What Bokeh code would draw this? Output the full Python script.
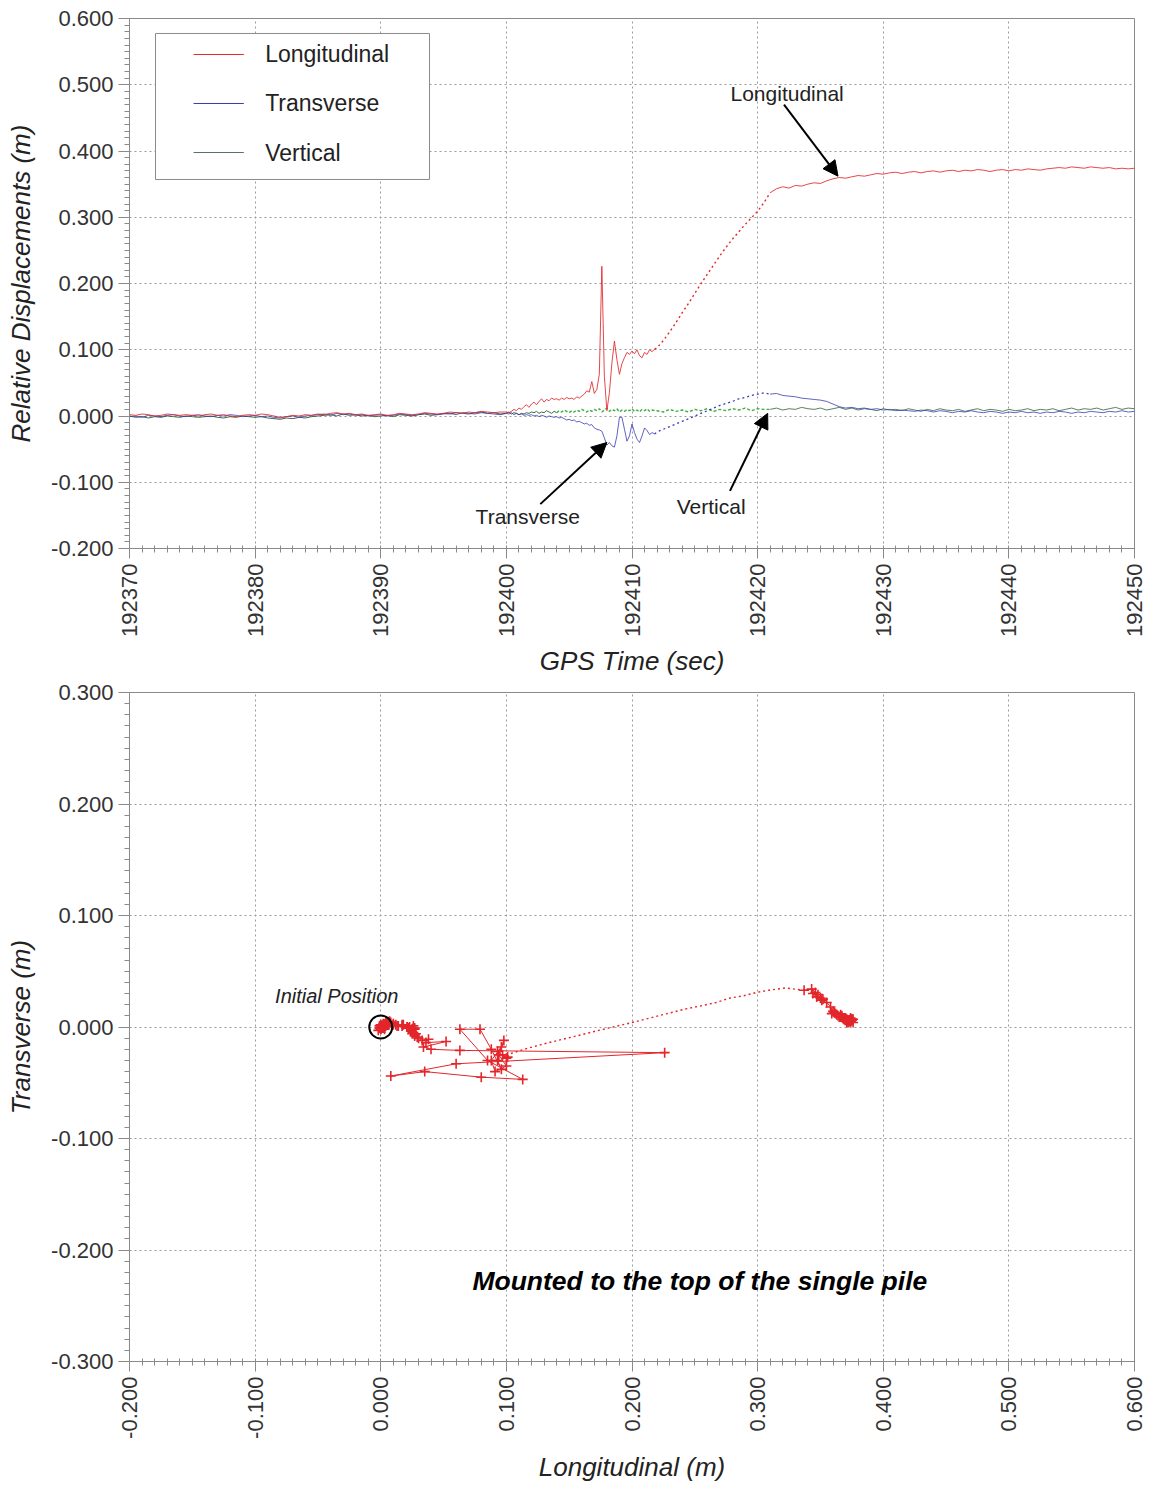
import numpy as np
from bokeh.plotting import figure
from bokeh.layouts import column
from bokeh.models import FixedTicker, PrintfTickFormatter, Arrow, NormalHead, Label
from bokeh.embed import file_html
from bokeh.resources import INLINE

FONT = "Liberation Sans"
RED = "#e3262b"
BLUE = "#3b3bb3"
GREEN_DARK = "#3d6b45"
GREEN = "#3fae3f"
AXIS = "#8a8a8a"

# ---- GPS sample clocks (seconds) ----
t_pre = 192370.0 + 0.5 * np.arange(60)     # quiet record before shaking
t_event = 192400.0 + 0.2 * np.arange(60)   # strong motion
t_gap = 192412.0 + 0.5 * np.arange(18)     # low-quality epochs (drawn dotted)
t_post = 192421.0 + 0.5 * np.arange(59)    # residual position

# ---- Longitudinal displacement (m) ----
long_pre = [
    0.002, 0.001, 0.003, 0.002, 0.000, 0.001, 0.003, 0.002, 0.001, 0.002,
    0.001, 0.000, 0.002, 0.003, 0.001, 0.002, 0.000, -0.001, 0.001, 0.002,
    0.001, 0.003, 0.002, 0.000, -0.002, -0.001, 0.001, 0.000, 0.002, 0.001,
    0.003, 0.002, 0.004, 0.005, 0.003, 0.004, 0.002, 0.003, 0.001, 0.002,
    0.003, 0.001, 0.002, 0.004, 0.003, 0.002, 0.003, 0.005, 0.004, 0.003,
    0.004, 0.006, 0.005, 0.004, 0.006, 0.005, 0.007, 0.006, 0.005, 0.006,
]
long_event = [
    0.006, 0.005, 0.007, 0.010, 0.008, 0.012, 0.010, 0.014, 0.017, 0.013,
    0.018, 0.021, 0.017, 0.022, 0.026, 0.021, 0.025, 0.023, 0.027, 0.025,
    0.026, 0.024, 0.027, 0.025, 0.028, 0.026, 0.027, 0.025, 0.029, 0.027,
    0.030, 0.033, 0.038, 0.036, 0.052, 0.034, 0.040, 0.063, 0.226, 0.060,
    0.008, 0.035, 0.080, 0.113, 0.085, 0.063, 0.079, 0.088, 0.096, 0.093,
    0.098, 0.094, 0.100, 0.091, 0.088, 0.096, 0.093, 0.100, 0.097, 0.101,
]
long_gap = [
    0.103, 0.114, 0.127, 0.141, 0.156, 0.170, 0.185, 0.200, 0.214, 0.228,
    0.242, 0.255, 0.267, 0.278, 0.289, 0.299, 0.309, 0.322,
]
long_post = [
    0.337, 0.343, 0.346, 0.344, 0.348, 0.347, 0.350, 0.352, 0.351, 0.355,
    0.358, 0.360, 0.359, 0.361, 0.363, 0.362, 0.364, 0.366, 0.365, 0.367,
    0.368, 0.366, 0.368, 0.369, 0.367, 0.369, 0.370, 0.368, 0.370, 0.371,
    0.369, 0.371, 0.370, 0.372, 0.371, 0.369, 0.371, 0.372, 0.370, 0.372,
    0.371, 0.373, 0.372, 0.371, 0.373, 0.374, 0.375, 0.374, 0.376, 0.375,
    0.374, 0.376, 0.375, 0.374, 0.375, 0.373, 0.374, 0.373, 0.374,
]

# ---- Transverse displacement (m) ----
trans_pre = [
    -0.001, 0.000, -0.002, 0.001, 0.000, -0.001, 0.001, 0.002, 0.000, -0.001,
    0.001, 0.002, 0.000, -0.001, 0.001, 0.000, 0.002, 0.001, -0.001, 0.000,
    0.001, -0.001, 0.000, -0.002, -0.003, -0.001, 0.000, -0.002, 0.000, 0.001,
    0.002, 0.003, 0.001, 0.004, 0.002, 0.003, 0.001, 0.002, 0.000, 0.001,
    0.002, 0.000, 0.001, 0.003, 0.002, 0.001, 0.002, 0.004, 0.003, 0.002,
    0.003, 0.004, 0.002, 0.005, 0.004, 0.003, 0.005, 0.004, 0.003, 0.002,
]
trans_event = [
    0.004, 0.003, 0.005, 0.002, 0.004, 0.002, 0.003, 0.001, 0.002, 0.001,
    0.002, 0.000, 0.001, -0.001, 0.001, 0.000, -0.002, 0.000, -0.001, -0.002,
    -0.001, -0.003, -0.002, -0.004, -0.006, -0.005, -0.007, -0.006, -0.009, -0.008,
    -0.010, -0.012, -0.011, -0.014, -0.013, -0.018, -0.020, -0.021, -0.023, -0.033,
    -0.044, -0.040, -0.045, -0.047, -0.030, -0.002, -0.002, -0.020, -0.038, -0.030,
    -0.012, -0.025, -0.035, -0.040, -0.030, -0.018, -0.022, -0.028, -0.025, -0.027,
]
trans_gap = [
    -0.024, -0.020, -0.016, -0.012, -0.008, -0.004, 0.000, 0.004, 0.008, 0.012,
    0.016, 0.019, 0.022, 0.026, 0.028, 0.031, 0.033, 0.035,
]
trans_post = [
    0.033, 0.034, 0.031, 0.030, 0.029, 0.027, 0.026, 0.025, 0.024, 0.022,
    0.018, 0.014, 0.012, 0.013, 0.011, 0.012, 0.010, 0.011, 0.009, 0.010,
    0.008, 0.009, 0.008, 0.007, 0.009, 0.008, 0.006, 0.008, 0.007, 0.005,
    0.007, 0.006, 0.008, 0.006, 0.005, 0.007, 0.006, 0.004, 0.006, 0.005,
    0.007, 0.005, 0.006, 0.004, 0.006, 0.005, 0.007, 0.006, 0.004, 0.006,
    0.005, 0.007, 0.006, 0.005, 0.007, 0.006, 0.008, 0.006, 0.007,
]

# ---- Vertical displacement (m) ----
vert_pre = [
    0.000, -0.002, -0.001, -0.003, -0.001, -0.002, 0.000, -0.001, -0.002, 0.000,
    -0.001, -0.002, -0.001, 0.000, -0.002, -0.003, -0.001, -0.002, 0.000, -0.001,
    -0.002, -0.001, -0.003, -0.004, -0.005, -0.003, -0.004, -0.002, -0.003, -0.001,
    0.000, 0.001, 0.002, 0.000, 0.003, 0.001, 0.002, 0.000, 0.001, -0.001,
    0.000, 0.001, -0.001, 0.002, 0.001, 0.000, 0.002, 0.003, 0.001, 0.002,
    0.004, 0.003, 0.005, 0.004, 0.003, 0.005, 0.006, 0.004, 0.005, 0.003,
]
vert_event = [
    0.004, 0.006, 0.003, 0.005, 0.004, 0.002, 0.004, 0.003, 0.005, 0.004,
    0.006, 0.005, 0.007, 0.004, 0.006, 0.005, 0.008, 0.006, 0.004, 0.007,
    0.005, 0.008, 0.006, 0.009, 0.007, 0.005, 0.008, 0.006, 0.009, 0.007,
    0.010, 0.008, 0.006, 0.009, 0.007, 0.010, 0.008, 0.011, 0.006, 0.009,
    0.012, 0.007, 0.010, 0.008, 0.011, 0.006, 0.009, 0.007, 0.010, 0.008,
    0.011, 0.007, 0.009, 0.006, 0.010, 0.008, 0.011, 0.007, 0.009, 0.008,
]
vert_gap = [
    0.008, 0.006, 0.010, 0.007, 0.009, 0.006, 0.010, 0.008, 0.011, 0.007,
    0.010, 0.008, 0.011, 0.009, 0.012, 0.008, 0.011, 0.010,
]
vert_post = [
    0.010, 0.012, 0.009, 0.011, 0.010, 0.013, 0.011, 0.010, 0.012, 0.009,
    0.011, 0.013, 0.010, 0.012, 0.009, 0.011, 0.010, 0.008, 0.011, 0.009,
    0.010, 0.008, 0.011, 0.009, 0.007, 0.010, 0.008, 0.011, 0.009, 0.008,
    0.010, 0.007, 0.009, 0.011, 0.008, 0.010, 0.009, 0.007, 0.010, 0.008,
    0.009, 0.011, 0.008, 0.010, 0.009, 0.011, 0.008, 0.010, 0.012, 0.009,
    0.011, 0.010, 0.012, 0.009, 0.011, 0.013, 0.010, 0.012, 0.011,
]

series_names = ["Longitudinal", "Transverse", "Vertical"]
time_ticks = [192370, 192380, 192390, 192400, 192410, 192420, 192430, 192440, 192450]


def clean(vals):
    return [float(np.round(v, 3)) + 0.0 for v in vals]


def style(p, xt, xm, yt, ym, xfmt, yfmt, xlab, ylab):
    p.xaxis.ticker = FixedTicker(ticks=xt, minor_ticks=xm)
    p.yaxis.ticker = FixedTicker(ticks=yt, minor_ticks=ym)
    p.xaxis.formatter = PrintfTickFormatter(format=xfmt)
    p.yaxis.formatter = PrintfTickFormatter(format=yfmt)
    p.xaxis.major_label_orientation = np.pi / 2
    p.xaxis.axis_label = xlab
    p.yaxis.axis_label = ylab
    for ax in (p.xaxis, p.yaxis):
        ax.axis_line_color = AXIS
        ax.major_tick_line_color = AXIS
        ax.minor_tick_line_color = AXIS
        ax.major_label_text_font = FONT
        ax.major_label_text_font_size = "22px"
        ax.major_label_text_color = "#333333"
        ax.axis_label_text_font = FONT
        ax.axis_label_text_font_size = "26px"
        ax.axis_label_text_font_style = "italic"
        ax.axis_label_text_color = "#222222"
    p.xaxis.major_label_standoff = 5
    p.xaxis.axis_label_standoff = 6
    p.xaxis.major_tick_in = 0
    p.xaxis.major_tick_out = 10
    p.xaxis.minor_tick_in = 3
    p.xaxis.minor_tick_out = 4
    p.yaxis.major_tick_in = 0
    p.yaxis.major_tick_out = 11
    p.yaxis.minor_tick_in = 0
    p.yaxis.minor_tick_out = 5
    p.yaxis.major_label_standoff = 5
    p.yaxis.axis_label_standoff = 12
    for g in (p.xgrid, p.ygrid):
        g.grid_line_color = "#9a9a9a"
        g.grid_line_dash = "2 3"
        g.grid_line_width = 1
    p.outline_line_color = AXIS
    p.outline_line_width = 1
    p.background_fill_color = "white"
    p.border_fill_color = "white"


# ================= time histories =================
p1 = figure(width=1158, height=680, x_range=(192370, 192450), y_range=(-0.2, 0.6),
            output_backend="svg", toolbar_location=None,
            min_border_left=129, min_border_right=24, min_border_top=18, min_border_bottom=132)

disp_ticks = clean(np.arange(-0.2, 0.6001, 0.1))
disp_minor = clean(np.arange(-0.2, 0.6001, 0.01))
style(p1, time_ticks, list(range(192370, 192451)), disp_ticks, disp_minor,
      "%d", "%.3f", "GPS Time (sec)", "Relative Displacements (m)")

t_solid = np.concatenate([t_pre, t_event])
t_dot = np.concatenate([t_event[-1:], t_gap, t_post[:1]])

# Vertical (drawn first, underneath)
p1.line(np.concatenate([t_pre, t_event[:21]]), vert_pre + vert_event[:21],
        line_color=GREEN_DARK, line_width=1)
p1.line(np.concatenate([t_event[20:], t_gap, t_post[:1]]), vert_event[20:] + vert_gap + vert_post[:1],
        line_color=GREEN, line_width=1.4, line_dash="3 2")
p1.line(t_post, vert_post, line_color=GREEN_DARK, line_width=1, line_alpha=0.85)

# Transverse
p1.line(t_solid, trans_pre + trans_event, line_color=BLUE, line_width=1, line_alpha=0.8)
p1.line(t_dot, trans_event[-1:] + trans_gap + trans_post[:1], line_color=BLUE,
        line_width=1.3, line_dash="2 3")
p1.line(t_post, trans_post, line_color=BLUE, line_width=1, line_alpha=0.8)

# Longitudinal
p1.line(t_solid, long_pre + long_event, line_color=RED, line_width=1, line_alpha=0.85)
p1.line(t_dot, long_event[-1:] + long_gap + long_post[:1], line_color=RED,
        line_width=1.4, line_dash="2 3")
p1.line(t_post, long_post, line_color=RED, line_width=1, line_alpha=0.85)

# key box
p1.quad(left=[192372.07], right=[192393.88], bottom=[0.357], top=[0.5774],
        fill_color="white", line_color="#8a8a8a", line_width=1)
key_rows = [0.5457, 0.4717, 0.3977]
key_colors = [RED, BLUE, "#5d6f60"]
p1.segment(x0=[192375.1] * 3, x1=[192379.1] * 3, y0=key_rows, y1=key_rows,
           line_color=key_colors, line_width=1)
for name, yy in zip(series_names, key_rows):
    p1.add_layout(Label(x=192380.8, y=yy, text=name, text_font=FONT, text_font_size="23px",
                        text_color="#222222", text_baseline="middle", text_align="left"))

# callouts
callouts = [
    ("Longitudinal", 192422.35, 0.4875, 192422.1, 0.470, 192426.4, 0.362),
    ("Transverse", 192401.7, -0.151, 192402.7, -0.133, 192408.0, -0.040),
    ("Vertical", 192416.3, -0.137, 192417.8, -0.113, 192420.8, 0.004),
]
for txt, tx, ty, xs, ys, xe, ye in callouts:
    p1.add_layout(Label(x=tx, y=ty, text=txt, text_font=FONT, text_font_size="21px",
                        text_color="#222222", text_align="center", text_baseline="middle"))
    p1.add_layout(Arrow(end=NormalHead(size=15, fill_color="black", line_color="black"),
                        x_start=xs, y_start=ys, x_end=xe, y_end=ye,
                        line_color="black", line_width=2))

# ================= plan-view trajectory =================
p2 = figure(width=1158, height=806, x_range=(-0.2, 0.6), y_range=(-0.3, 0.3),
            output_backend="svg", toolbar_location=None,
            min_border_left=129, min_border_right=24, min_border_top=12, min_border_bottom=125)

lon_ticks = clean(np.arange(-0.2, 0.6001, 0.1))
lon_minor = clean(np.arange(-0.2, 0.6001, 0.01))
tr_ticks = clean(np.arange(-0.3, 0.3001, 0.1))
tr_minor = clean(np.arange(-0.3, 0.3001, 0.01))
style(p2, lon_ticks, lon_minor, tr_ticks, tr_minor, "%.3f", "%.3f",
      "Longitudinal (m)", "Transverse (m)")
p2.xaxis.axis_label_standoff = 10

x_solid = long_pre + long_event
y_solid = trans_pre + trans_event
p2.line(x_solid, y_solid, line_color=RED, line_width=1)
p2.line(long_event[-1:] + long_gap + long_post[:1], trans_event[-1:] + trans_gap + trans_post[:1],
        line_color=RED, line_width=1.4, line_dash="2 3")
p2.line(long_post, trans_post, line_color=RED, line_width=1)
p2.scatter(x_solid + long_post, y_solid + trans_post, marker="cross", size=10,
           line_color=RED, line_width=1.6)

p2.scatter([long_pre[0] - 0.002], [trans_pre[0] + 0.001], marker="circle", size=23,
           fill_color=None, line_color="black", line_width=2)
p2.add_layout(Label(x=-0.035, y=0.028, text="Initial Position", text_font=FONT,
                    text_font_size="20px", text_font_style="italic", text_color="#222222",
                    text_align="center", text_baseline="middle"))
p2.add_layout(Label(x=0.254, y=-0.228, text="Mounted to the top of the single pile",
                    text_font=FONT, text_font_size="26.5px", text_font_style="bold italic",
                    text_color="black", text_align="center", text_baseline="middle"))

layout = column(p1, p2, spacing=0)
open("out.html", "w").write(file_html(layout, INLINE))
